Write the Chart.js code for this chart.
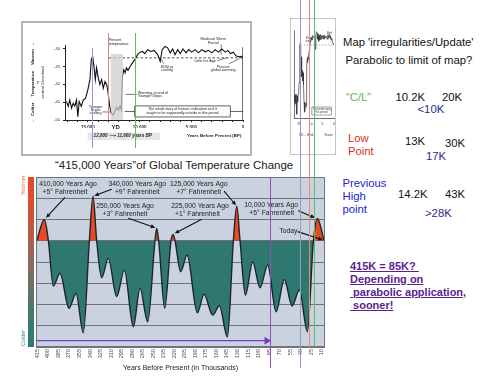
<!DOCTYPE html>
<html>
<head>
<meta charset="utf-8">
<title>415,000 Years of Global Temperature Change</title>
<script src="https://cdn.jsdelivr.net/npm/chart.js@4.4.1/dist/chart.umd.min.js"></script>
<style>
  body { margin:0; width:500px; height:386px; position:relative; overflow:hidden; background:#fff;
         font-family:"Liberation Sans", Arial, sans-serif; }
  canvas, .txt, .vline, .box { position:absolute; }
  .txt { white-space:pre; line-height:13px; font-size:11.3px; color:#111; }
  .vline { width:1.2px; }
  #title { left:55px; top:159px; font-size:11.5px; line-height:12px; color:#222; }
  .purple { font-weight:bold; color:#5b1f8e; text-decoration:underline; font-size:11px; line-height:13.2px; }
</style>
</head>
<body>

<div class="box" style="left:21px;top:21px;width:227px;height:131px;border:2px solid #b4b4b4;"></div>
<canvas id="inset" width="226" height="131" style="left:23px;top:23px;"></canvas>

<div class="box" style="left:290px;top:18px;width:44px;height:135px;border:1px solid #c4c4c4;"></div>
<canvas id="thumb" width="44" height="135" style="left:291px;top:19px;"></canvas>

<div class="txt" id="title">“415,000 Years”of Global Temperature Change</div>
<canvas id="main" width="340" height="216" style="left:0;top:170px;"></canvas>

<div class="txt" style="left:343px;top:36px;">Map 'irregularities/Update'</div>
<div class="txt" style="left:345.5px;top:54px;">Parabolic to limit of map?</div>

<div class="txt" style="left:346px;top:91px;color:#55b955;">“C/L”</div>
<div class="txt" style="left:395.5px;top:91px;">10.2K</div>
<div class="txt" style="left:442px;top:91px;">20K</div>
<div class="txt" style="left:417.5px;top:103px;color:#2c2c8c;">&lt;10K</div>

<div class="txt" style="left:348px;top:132px;color:#e02a2a;">Low</div>
<div class="txt" style="left:348px;top:145px;color:#e02a2a;">Point</div>
<div class="txt" style="left:405px;top:134.5px;">13K</div>
<div class="txt" style="left:445px;top:136.5px;">30K</div>
<div class="txt" style="left:426px;top:149.5px;color:#2c2c8c;">17K</div>

<div class="txt" style="left:342.5px;top:177px;color:#2323d0;">Previous</div>
<div class="txt" style="left:342.5px;top:189.5px;color:#2323d0;">High</div>
<div class="txt" style="left:342.5px;top:203px;color:#2323d0;">point</div>
<div class="txt" style="left:398px;top:188px;">14.2K</div>
<div class="txt" style="left:445px;top:188px;">43K</div>
<div class="txt" style="left:425px;top:207px;color:#2c2c8c;">&gt;28K</div>

<div class="txt purple" style="left:350px;top:259.5px;">415K = 85K? </div>
<div class="txt purple" style="left:350px;top:272.5px;">Depending on</div>
<div class="txt purple" style="left:350px;top:285.5px;"> parabolic application,</div>
<div class="txt purple" style="left:350px;top:299px;"> sooner!</div>

<div class="vline" style="left:92px;top:48px;height:100px;background:#8a9dd0;"></div>
<div class="vline" style="left:108px;top:33px;height:87px;background:#e58080;"></div>
<div class="vline" style="left:134.5px;top:33px;height:115px;background:#5cc05c;"></div>
<div class="vline" style="left:269.5px;top:177px;height:191px;background:#8a52c0;"></div>
<div class="vline" style="left:299.5px;top:0;height:368px;background:#8d9dc6;"></div>
<div class="vline" style="left:308.5px;top:0;height:347px;background:#e58a8a;"></div>
<div class="vline" style="left:314px;top:0;height:347px;background:#5cbf5c;"></div>

<script>
const family = '"Liberation Sans", Arial, sans-serif';

// ---- main chart: 415,000 years (x in thousands of years before present) ----
const xTickLabels = [415,400,385,370,355,340,325,310,295,280,265,250,235,220,205,190,175,160,145,130,115,100,85,70,55,40,25,10];
const yearsAgo = [415.9,405.0,399.3,392.2,382.7,369.9,359.9,349.5,340.9,335.7,330.5,323.4,313.9,302.0,291.1,278.3,268.8,257.8,
                  247.4,245.0,242.2,233.6,224.6,221.7,218.9,210.8,201.8,187.1,177.6,165.2,155.7,144.3,135.8,131.0,126.3,
                  118.7,108.3,97.8,86.9,75.0,63.2,52.2,41.8,30.4,21.8,16.1,6.6];
const tempIndex = [0,1.0,0,-2.13,-1.53,-3.18,-2.48,-4.33,0,2.10,0,-1.74,-0.83,-2.63,-1.38,-4.05,-2.24,-3.81,
                   0,0.58,0,-3.18,0,0.30,0,-1.46,-0.67,-3.39,-2.52,-3.50,-3.06,-4.52,0,1.63,0,
                   -2.56,-1.0,-2.21,-1.14,-3.34,-1.82,-3.07,-2.32,-4.28,0,1.05,0];
const arrowYears = [416.5, 88.3];
const arrowLevel = -4.7;

// callouts (text anchors and arrow ends, in chart units)
const notes = [
  { lines: ['410,000 Years Ago', '+5° Fahrenheit'], at: [[371.3, 2.67], [375.6, 2.28]], from: [375.6, 2.04], to: [402.7, 1.08] },
  { lines: ['340,000 Years Ago', '+9° Fahrenheit'], at: [[272.6, 2.67], [272.6, 2.28]], from: [309.1, 2.42], to: [333.9, 2.12] },
  { lines: ['125,000 Years Ago', '+7° Fahrenheit'], at: [[185.1, 2.67], [185.1, 2.28]], from: [149.1, 2.34], to: [132.0, 1.67] },
  { lines: ['250,000 Years Ago', '+3° Fahrenheit'], at: [[290.1, 1.65], [290.1, 1.26]], from: [285.4, 1.06], to: [247.0, 0.61] },
  { lines: ['225,000 Years Ago', '+1° Fahrenheit'], at: [[183.3, 1.65], [187.1, 1.26]], from: [180.9, 1.01], to: [219.3, 0.35] },
  { lines: ['10,000 Years Ago', '+5° Fahrenheit'], at: [[82.1, 1.68], [81.1, 1.29]], from: [43.3, 1.41], to: [19.5, 1.08] },
  { lines: ['Today'], at: [[57.5, 0.47]], from: [44.1, 0.43], to: [8.5, 0.04] }
];

function arrow(ctx, x1, y1, x2, y2, head) {
  const a = Math.atan2(y2 - y1, x2 - x1);
  ctx.beginPath();
  ctx.moveTo(x1, y1);
  ctx.lineTo(x2 - Math.cos(a) * head * 0.8, y2 - Math.sin(a) * head * 0.8);
  ctx.stroke();
  ctx.beginPath();
  ctx.moveTo(x2, y2);
  ctx.lineTo(x2 - head * Math.cos(a) + head * 0.45 * Math.sin(a), y2 - head * Math.sin(a) - head * 0.45 * Math.cos(a));
  ctx.lineTo(x2 - head * Math.cos(a) - head * 0.45 * Math.sin(a), y2 - head * Math.sin(a) + head * 0.45 * Math.cos(a));
  ctx.closePath();
  ctx.fill();
}

const mainDecor = {
  id: 'mainDecor',
  beforeDraw(chart) {
    const { ctx, chartArea: a } = chart;
    ctx.save();
    ctx.fillStyle = '#cad2df';
    ctx.fillRect(a.left, a.top, a.right - a.left, a.bottom - a.top);
    ctx.restore();
  },
  afterDraw(chart) {
    const { ctx, chartArea: a, scales: { x, y } } = chart;
    ctx.save();
    ctx.strokeStyle = '#6d727b';
    ctx.lineWidth = 1;
    ctx.strokeRect(a.left + 0.5, a.top + 0.5, a.right - a.left - 1, a.bottom - a.top - 1);

    // warmer / colder bar
    const g = ctx.createLinearGradient(0, a.top, 0, a.bottom);
    g.addColorStop(0, '#e4492a');
    g.addColorStop(0.18, '#d8502f');
    g.addColorStop(0.5, '#8c6b5d');
    g.addColorStop(0.85, '#3a7b71');
    g.addColorStop(1, '#2e7a70');
    ctx.fillStyle = g;
    ctx.fillRect(a.left - 8, a.top, 6, a.bottom - a.top);

    ctx.font = '5.5px ' + family;
    ctx.textAlign = 'center';
    ctx.textBaseline = 'middle';
    ctx.save();
    ctx.translate(a.left - 13, a.top + 8);
    ctx.rotate(-Math.PI / 2);
    ctx.fillStyle = '#e8704a';
    ctx.fillText('Warmer', 0, 0);
    ctx.restore();
    ctx.save();
    ctx.translate(a.left - 13, a.bottom - 9);
    ctx.rotate(-Math.PI / 2);
    ctx.fillStyle = '#3f8f85';
    ctx.fillText('Colder', 0, 0);
    ctx.restore();

    // callouts
    ctx.font = '6.8px ' + family;
    ctx.fillStyle = '#222';
    notes.forEach(n => {
      n.lines.forEach((t, i) => ctx.fillText(t, x.getPixelForValue(n.at[i][0]), y.getPixelForValue(n.at[i][1])));
    });
    ctx.strokeStyle = '#111';
    ctx.fillStyle = '#111';
    ctx.lineWidth = 1.1;
    notes.forEach(n => {
      arrow(ctx, x.getPixelForValue(n.from[0]), y.getPixelForValue(n.from[1]),
            x.getPixelForValue(n.to[0]), y.getPixelForValue(n.to[1]), 4.5);
    });
    ctx.restore();
  }
};

new Chart(document.getElementById('main'), {
  type: 'line',
  data: {
    datasets: [{
      data: yearsAgo.map((v, i) => ({ x: v, y: tempIndex[i] })),
      borderColor: '#1d2626',
      borderWidth: 1.4,
      pointRadius: 0,
      cubicInterpolationMode: 'monotone',
      fill: { target: { value: 0 }, above: '#e64a26', below: '#2e7870' }
    }, {
      data: arrowYears.map(v => ({ x: v, y: arrowLevel })),
      borderColor: '#7b3cb8',
      borderWidth: 1.2,
      pointRadius: [0, 4.5],
      pointStyle: 'triangle',
      rotation: 90,
      pointBackgroundColor: '#7b3cb8',
      pointBorderWidth: 0,
      fill: false
    }]
  },
  options: {
    responsive: false,
    animation: false,
    devicePixelRatio: 1,
    layout: { padding: { left: 36, right: 15, top: 7, bottom: 13 } },
    plugins: { legend: { display: false }, tooltip: { enabled: false } },
    scales: {
      x: {
        type: 'linear', reverse: true, min: 5.3, max: 416.9,
        afterBuildTicks: s => { s.ticks = xTickLabels.map(v => ({ value: v })); },
        ticks: { autoSkip: false, minRotation: 90, maxRotation: 90, padding: 2,
                 font: { size: 5.6, family }, color: '#444', callback: v => String(v) },
        grid: { display: false, drawTicks: false },
        border: { display: false },
        title: { display: true, text: 'Years Before Present (in Thousands)', color: '#222',
                 font: { size: 7, family }, padding: { top: 0, bottom: 1 } },
        afterFit: s => { s.height = 26; }
      },
      y: {
        min: -5, max: 3,
        ticks: { display: false, stepSize: 1 },
        grid: { color: '#6d727b', lineWidth: 1, drawTicks: false },
        border: { display: false },
        afterFit: s => { s.width = 0; }
      }
    }
  },
  plugins: [mainDecor]
});

// ---- inset: Younger Dryas, years BP vs temperature in central Greenland ----
const ydYears = [17060,16890,16740,16570,16410,16250,16090,15960,15830,15630,15440,15210,14990,14790,14660,14530,14400,14270,14150,13980,
                 13830,13660,13500,13330,13170,13050,12880,12730,12560,12400,12200,12040,11880,11760,11650,11520,11390,11260,11110,10910,
                 10680,10430,10190,9940,9710,9490,9220,8900,8580,8250,8000,7810,7540,7280,7030,6800,6570,6310,6060,5800,
                 5500,5240,4950,4630,4310,3980,3660,3340,3010,2690,2370,2040,1720,1460,1200,940,680,430,170,0];
const ydTemps = [-44.8,-46.2,-44.4,-46.7,-45.3,-46.1,-44.4,-49.1,-44.8,-46.2,-44.4,-43.9,-41.5,-38.7,-33.1,-32.2,-35.0,-38.7,-35.4,-38.3,
                 -40.1,-38.7,-41.1,-39.2,-40.1,-42.0,-46.2,-48.1,-48.6,-47.7,-46.4,-47.2,-46.1,-47.2,-37.8,-35.9,-36.8,-35.4,-36.1,-35.0,
                 -34.0,-32.9,-31.7,-31.0,-30.8,-31.4,-30.3,-30.8,-30.5,-31.7,-33.6,-30.3,-29.4,-29.8,-31.2,-30.1,-31.7,-30.3,-31.4,-30.1,
                 -31.2,-30.3,-31.0,-30.3,-31.2,-30.3,-30.9,-30.5,-31.2,-30.3,-31.0,-30.1,-31.0,-30.5,-31.4,-31.0,-32.0,-32.3,-32.2,-32.6];
const presentTemp = -32.6;
const presentFrom = 12950;
const ydSpan = [12800, 11600];
const ydShadeTop = -31.5;
const insetXTicks = [15000, 10000, 5000, 0];
const insetYTicks = [-30, -35, -40, -45, -50];

const ydCurve = ydYears.map((v, i) => ({ x: v, y: ydTemps[i] }));

// small notes inside the inset, in chart units
const insetNotes = [
  { lines: ['Present', 'temperature'], x: 12980, y: [-27.46, -28.73], align: 'left' },
  { lines: ['Medieval Warm', 'Period'], x: 2883, y: [-27.18, -28.31], align: 'center', line: [[2107, -28.87], [2107, -31.69]] },
  { lines: ['Little Ice Age'], x: 3660, y: [-33.58], align: 'center', line: [[2495, -33.38], [1524, -32.54]] },
  { lines: ['8200 yr', 'cooling'], x: 7350, y: [-35.07, -36.06], align: 'center', line: [[7640, -34.23], [8029, -32.54]] },
  { lines: ['Present', 'global warming'], x: 1913, y: [-35.07, -36.06], align: 'center', line: [[1330, -34.23], [359, -32.82]] },
  { lines: ['Warming at end of', 'Younger Dryas'], x: 10165, y: [-42.39, -43.38], align: 'left', line: [[10262, -42.82], [11330, -42.82]] },
  { lines: ['Younger', 'Dryas', 'cooling'], x: 14243, y: [-46.48, -47.32, -48.17], align: 'center', line: [[13563, -47.75], [12786, -47.75]] }
];

const insetDecor = {
  id: 'insetDecor',
  afterDraw(chart) {
    const { ctx, chartArea: a, scales: { x, y } } = chart;
    ctx.save();
    ctx.fillStyle = '#222';
    ctx.strokeStyle = '#222';
    ctx.lineWidth = 0.6;
    ctx.textBaseline = 'middle';
    ctx.font = '3.7px ' + family;
    insetNotes.forEach(n => {
      ctx.textAlign = n.align;
      n.lines.forEach((t, i) => ctx.fillText(t, x.getPixelForValue(n.x), y.getPixelForValue(n.y[i])));
      if (n.line) {
        ctx.beginPath();
        ctx.moveTo(x.getPixelForValue(n.line[0][0]), y.getPixelForValue(n.line[0][1]));
        ctx.lineTo(x.getPixelForValue(n.line[1][0]), y.getPixelForValue(n.line[1][1]));
        ctx.stroke();
      }
    });

    // boxed remark
    const bx1 = x.getPixelForValue(10456), bx2 = x.getPixelForValue(1233);
    const by1 = y.getPixelForValue(-46.06), by2 = y.getPixelForValue(-49.15);
    ctx.fillStyle = '#fff';
    ctx.fillRect(bx1, by1, bx2 - bx1, by2 - by1);
    ctx.lineWidth = 0.7;
    ctx.strokeRect(bx1, by1, bx2 - bx1, by2 - by1);
    const ly = y.getPixelForValue(-47.61);
    ctx.beginPath();
    ctx.moveTo(bx1, ly); ctx.lineTo(x.getPixelForValue(11427), ly);
    ctx.moveTo(bx2, ly); ctx.lineTo(a.right, ly);
    ctx.stroke();
    ctx.fillStyle = '#222';
    ctx.textAlign = 'center';
    ctx.font = '3.6px ' + family;
    ctx.fillText('The whole story of human civilization as if it', x.getPixelForValue(5845), y.getPixelForValue(-47.04));
    ctx.fillText('taught to be supposedly outside in this period', x.getPixelForValue(5845), y.getPixelForValue(-48.17));

    // below the axis
    ctx.font = 'bold 6px ' + family;
    ctx.fillText('YD', x.getPixelForValue(12301), y.getPixelForValue(-51.97));
    const gx1 = x.getPixelForValue(15019), gx2 = x.getPixelForValue(8029);
    const gy1 = y.getPixelForValue(-53.52), gy2 = y.getPixelForValue(-55.63);
    ctx.fillStyle = '#e6e6e6';
    ctx.fillRect(gx1, gy1, gx2 - gx1, gy2 - gy1);
    ctx.fillStyle = '#222';
    ctx.font = 'italic bold 4.6px ' + family;
    ctx.fillText('12,800 ⟶ 11,600 years BP', x.getPixelForValue(11621), y.getPixelForValue(-54.5));
    ctx.font = 'bold 4.4px ' + family;
    ctx.fillText('Years Before Present (BP)', x.getPixelForValue(2786), y.getPixelForValue(-54.5));

    // y title
    ctx.font = 'bold 4.3px ' + family;
    const cy = (a.top + a.bottom) / 2;
    ctx.save();
    ctx.translate(a.left - 32, cy);
    ctx.rotate(-Math.PI / 2);
    ctx.fillText('←  Colder     Temperature     Warmer  →', 0, 0);
    ctx.restore();
    ctx.save();
    ctx.translate(a.left - 24, cy);
    ctx.rotate(-Math.PI / 2);
    ctx.font = '4px ' + family;
    ctx.fillText('in', 0, -3);
    ctx.fillText('central Greenland', 0, 2);
    ctx.restore();
    ctx.restore();
  }
};

new Chart(document.getElementById('inset'), {
  type: 'line',
  data: {
    datasets: [{
      data: ydSpan.map(v => ({ x: v, y: ydShadeTop })),
      fill: { value: -50 },
      backgroundColor: 'rgba(205,205,205,0.75)',
      borderWidth: 0,
      pointRadius: 0
    }, {
      data: [{ x: presentFrom, y: presentTemp }, { x: 0, y: presentTemp }],
      borderColor: '#222',
      borderWidth: 0.8,
      borderDash: [2.5, 2],
      pointRadius: 0
    }, {
      data: ydCurve,
      borderColor: '#111',
      borderWidth: 1.1,
      pointRadius: 0,
      tension: 0
    }, {
      data: [{ x: 0, y: -29.6 }, { x: 0, y: -50 }],
      borderColor: '#111',
      borderWidth: 1.2,
      pointRadius: 0
    }]
  },
  options: {
    responsive: false,
    animation: false,
    devicePixelRatio: 1,
    layout: { padding: { left: 30, right: 6, top: 22, bottom: 26 } },
    plugins: { legend: { display: false }, tooltip: { enabled: false } },
    scales: {
      x: {
        type: 'linear', reverse: true, min: 0, max: 17200,
        afterBuildTicks: s => {
          const t = [];
          for (let v = 0; v <= 17000; v += 1000) t.push({ value: v });
          s.ticks = t;
        },
        ticks: { autoSkip: false, maxRotation: 0, padding: 3, color: '#333',
                 font: { size: 4.5, weight: 'bold', family },
                 callback: v => insetXTicks.includes(v) ? v.toLocaleString('en-US') : '' },
        grid: { drawOnChartArea: false, tickLength: 2, color: '#222' },
        border: { color: '#222', width: 1 },
        afterFit: s => { s.height = 8; }
      },
      y: {
        min: -50, max: -29,
        afterBuildTicks: s => { s.ticks = insetYTicks.map(v => ({ value: v })); },
        ticks: { padding: 3, color: '#333', font: { size: 4, family } },
        grid: { drawOnChartArea: false, tickLength: 2, color: '#222' },
        border: { color: '#222', width: 1 },
        afterFit: s => { s.width = 12; }
      }
    }
  },
  plugins: [insetDecor]
});

// ---- thumbnail copy of the inset on the right ----
const thumbDecor = {
  id: 'thumbDecor',
  afterDraw(chart) {
    const { ctx, chartArea: a, scales: { x, y } } = chart;
    ctx.save();
    ctx.fillStyle = '#333';
    ctx.strokeStyle = '#444';
    ctx.lineWidth = 0.5;
    ctx.textAlign = 'center';
    ctx.textBaseline = 'middle';
    ctx.font = '2.6px ' + family;
    ctx.fillText('Pres', x.getPixelForValue(11000), a.top + 8);
    ctx.fillText('temp', x.getPixelForValue(11000), a.top + 11);
    ctx.fillText('Med', x.getPixelForValue(2000), a.top + 3);
    ctx.fillText('Wa', x.getPixelForValue(2000), a.top + 6);
    const bx1 = x.getPixelForValue(9500), bx2 = x.getPixelForValue(1200);
    ctx.strokeRect(bx1, a.bottom - 11, bx2 - bx1, 8);
    ctx.fillText('The whole story', (bx1 + bx2) / 2, a.bottom - 8.5);
    ctx.fillText('this period', (bx1 + bx2) / 2, a.bottom - 5.5);
    ctx.font = '3.4px ' + family;
    insetXTicks.forEach(v => ctx.fillText(String(v / 1000), x.getPixelForValue(v), a.bottom + 6));
    ctx.fillText('YD – Bnd', x.getPixelForValue(12000), a.bottom + 17);
    ctx.fillText('Years', x.getPixelForValue(2500), a.bottom + 17);
    ctx.restore();
  }
};

new Chart(document.getElementById('thumb'), {
  type: 'line',
  data: {
    datasets: [{
      data: ydCurve,
      borderColor: '#333',
      borderWidth: 0.7,
      pointRadius: 0
    }, {
      data: [{ x: presentFrom, y: presentTemp }, { x: 0, y: presentTemp }],
      borderColor: '#555',
      borderWidth: 0.5,
      borderDash: [1.5, 1.5],
      pointRadius: 0
    }]
  },
  options: {
    responsive: false,
    animation: false,
    devicePixelRatio: 1,
    layout: { padding: { left: 3, right: 1, top: 11, bottom: 36 } },
    plugins: { legend: { display: false }, tooltip: { enabled: false } },
    scales: {
      x: { type: 'linear', reverse: true, min: 0, max: 17200,
           ticks: { display: false }, grid: { display: false },
           border: { color: '#444', width: 0.8 }, afterFit: s => { s.height = 0; } },
      y: { min: -50, max: -29,
           ticks: { display: false }, grid: { display: false },
           border: { color: '#555', width: 0.8, dash: [2, 2] }, afterFit: s => { s.width = 0; } }
    }
  },
  plugins: [thumbDecor]
});
</script>
</body>
</html>
